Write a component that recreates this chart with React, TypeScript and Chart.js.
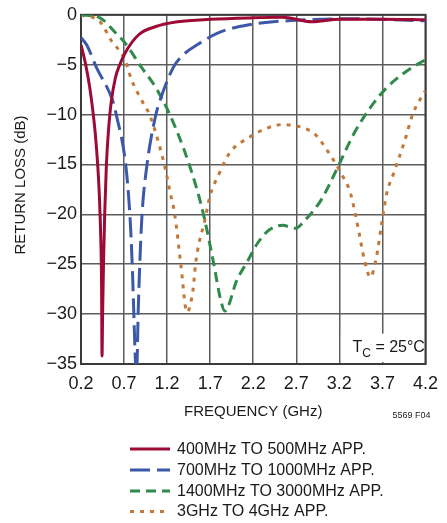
import React, { useEffect, useRef } from "react";
import { Chart, registerables } from "chart.js";

Chart.register(...registerables);

const X_TICKS = [0.2, 0.7, 1.2, 1.7, 2.2, 2.7, 3.2, 3.7, 4.2];
const Y_TICKS = [0, -5, -10, -15, -20, -25, -30, -35];

const SERIES_LABELS = [
  "400MHz TO 500MHz APP.",
  "700MHz TO 1000MHz APP.",
  "1400MHz TO 3000MHz APP.",
  "3GHz TO 4GHz APP.",
];

const RED_FREQ = [0.2, 0.25, 0.3, 0.34, 0.37, 0.395, 0.415, 0.43, 0.439, 0.444, 0.451, 0.461, 0.475, 0.495, 0.52, 0.55, 0.6, 0.65, 0.72, 0.87, 1.06, 1.32, 1.7, 2.2, 2.54, 2.88, 3.2, 3.7, 4.2];
const RED_DB = [-3.0, -4.8, -7.2, -9.8, -12.3, -15.2, -18.5, -22.5, -27.0, -34.2, -30.0, -25.1, -20.0, -15.0, -11.5, -8.8, -6.3, -5.0, -3.7, -2.0, -1.2, -0.7, -0.45, -0.3, -0.25, -0.7, -0.45, -0.45, -0.5];

const BLUE_FREQ = [0.2, 0.265, 0.38, 0.567, 0.612, 0.72, 0.768, 0.795, 0.814, 0.833, 0.842, 0.851, 0.863, 0.882, 0.908, 0.965, 1.067, 1.117, 1.27, 1.4, 1.55, 1.78, 2.15, 2.69, 3.37, 4.2];
const BLUE_DB = [-2.3, -3.0, -5.3, -8.6, -10.1, -15.1, -20.1, -25.1, -30.1, -35.0, -36.0, -35.0, -30.1, -25.1, -20.1, -15.1, -10.1, -8.6, -5.3, -3.9, -3.0, -1.85, -1.0, -0.55, -0.4, -0.6];

const GREEN_FREQ = [0.2, 0.42, 0.6, 0.7, 0.905, 1.07, 1.15, 1.21, 1.4, 1.55, 1.63, 1.74, 1.82, 1.87, 2.01, 2.14, 2.25, 2.38, 2.54, 2.69, 2.8, 2.92, 3.0, 3.18, 3.37, 3.56, 3.75, 3.98, 4.2];
const GREEN_DB = [0, -0.3, -1.8, -2.7, -5.3, -7.3, -8.6, -9.6, -13.6, -17.6, -20.3, -24.9, -28.5, -29.7, -26.6, -24.6, -22.9, -21.6, -21.1, -21.4, -20.6, -19.4, -18.4, -15.3, -11.9, -9.3, -7.3, -5.65, -4.5];

const ORANGE_FREQ = [0.2, 0.42, 0.56, 0.7, 0.79, 0.9, 1.0, 1.1, 1.17, 1.23, 1.29, 1.36, 1.43, 1.5, 1.53, 1.57, 1.63, 1.7, 1.8, 1.93, 2.15, 2.38, 2.54, 2.77, 2.92, 3.06, 3.22, 3.33, 3.4, 3.5, 3.56, 3.63, 3.69, 3.75, 3.83, 3.96, 4.05, 4.17, 4.2];
const ORANGE_DB = [0, -0.7, -2.7, -4.3, -6.6, -8.5, -10.1, -12.8, -15.1, -17.6, -20.1, -25.1, -29.8, -27.6, -25.0, -22.9, -20.9, -18.1, -16.0, -13.8, -12.3, -11.3, -11.0, -11.3, -12.0, -13.6, -15.9, -17.9, -20.6, -24.9, -26.3, -24.3, -21.0, -17.9, -15.9, -12.6, -10.0, -8.0, -7.6];

const COLORS = ["#9c0a35", "#3c58a8", "#2f8a4c", "#c27838"];
const DASHES: number[][] = [[], [20, 7], [10, 6], [4, 6]];

const FONT = "'Liberation Sans', Arial, sans-serif";

function pts(f: number[], d: number[]) {
  return f.map((x, i) => ({ x, y: d[i] }));
}

const decorPlugin = {
  id: "decor",
  beforeDatasetsDraw(chart: any) {
    const { ctx, chartArea: a } = chart;
    const xs = chart.scales.x;
    const ys = chart.scales.y;
    ctx.save();
    const bx0 = xs.getPixelForValue(3.2) + 1.5;
    const by0 = ys.getPixelForValue(-31.95);
    ctx.fillStyle = "#ffffff";
    ctx.fillRect(bx0, by0, a.right - 1.5 - bx0, a.bottom - 2 - by0);
    ctx.strokeStyle = "#3a3a3a";
    ctx.lineWidth = 2;
    ctx.strokeRect(a.left, a.top, a.right - a.left, a.bottom - a.top);
    ctx.fillStyle = "#1a1a1a";
    ctx.textBaseline = "alphabetic";
    ctx.textAlign = "left";
    ctx.font = `16px ${FONT}`;
    let x = 352.5;
    ctx.fillText("T", x, 352);
    x += ctx.measureText("T").width;
    ctx.font = `12px ${FONT}`;
    ctx.fillText("C", x, 356.5);
    x += ctx.measureText("C").width;
    ctx.font = `16px ${FONT}`;
    ctx.fillText(" = 25°C", x, 352);
    ctx.restore();
  },
  afterDraw(chart: any) {
    const { ctx, chartArea: a } = chart;
    ctx.save();
    ctx.fillStyle = "#1a1a1a";
    ctx.font = `15px ${FONT}`;
    ctx.textAlign = "center";
    ctx.textBaseline = "middle";
    ctx.fillText("FREQUENCY (GHz)", (a.left + a.right) / 2, 411.5);
    ctx.save();
    ctx.translate(21, 185);
    ctx.rotate(-Math.PI / 2);
    ctx.fillText("RETURN LOSS (dB)", 0, 0);
    ctx.restore();
    ctx.font = `9px ${FONT}`;
    ctx.textAlign = "left";
    ctx.fillText("5569 F04", 392.5, 416);
    const rows = [449, 470, 491, 511.5];
    chart.data.datasets.forEach((ds: any, i: number) => {
      const y = rows[i];
      ctx.save();
      ctx.strokeStyle = ds.borderColor;
      ctx.lineWidth = 3;
      ctx.setLineDash(DASHES[i]);
      ctx.beginPath();
      ctx.moveTo(130, y);
      ctx.lineTo(170, y);
      ctx.stroke();
      ctx.restore();
      ctx.font = `16px ${FONT}`;
      ctx.textAlign = "left";
      ctx.textBaseline = "middle";
      ctx.fillStyle = "#1a1a1a";
      ctx.fillText(ds.label, 177, y + 0.5);
    });
    ctx.restore();
  },
};

export default function App() {
  const ref = useRef<HTMLCanvasElement>(null);
  useEffect(() => {
    const series = [
      pts(RED_FREQ, RED_DB),
      pts(BLUE_FREQ, BLUE_DB),
      pts(GREEN_FREQ, GREEN_DB),
      pts(ORANGE_FREQ, ORANGE_DB),
    ];
    const chart = new Chart(ref.current as HTMLCanvasElement, {
      type: "line",
      data: {
        datasets: series.map((data, i) => ({
          label: SERIES_LABELS[i],
          data,
          borderColor: COLORS[i],
          backgroundColor: COLORS[i],
          borderWidth: 3,
          borderDash: DASHES[i],
          pointRadius: 0,
          fill: false,
          cubicInterpolationMode: "monotone" as const,
          clip: 0,
        })),
      },
      options: {
        responsive: false,
        animation: false,
        events: [],
        layout: { padding: { top: 13, right: 14, bottom: 0, left: 0 } },
        plugins: { legend: { display: false }, tooltip: { enabled: false } },
        scales: {
          x: {
            type: "linear",
            min: 0.2,
            max: 4.2,
            afterBuildTicks: (s: any) => {
              s.ticks = X_TICKS.map((v) => ({ value: v }));
            },
            afterFit: (s: any) => {
              s.height = 159;
            },
            grid: { color: "#5c5c5c", lineWidth: 1.5, drawTicks: false },
            border: { display: false },
            ticks: {
              padding: 9,
              color: "#1a1a1a",
              font: { family: FONT, size: 18 },
              maxRotation: 0,
              autoSkip: false,
              callback: (v: any) => Number(v).toFixed(1),
            },
          },
          y: {
            type: "linear",
            min: -35,
            max: 0,
            afterBuildTicks: (s: any) => {
              s.ticks = Y_TICKS.map((v) => ({ value: v }));
            },
            afterFit: (s: any) => {
              s.width = 81;
            },
            grid: { color: "#5c5c5c", lineWidth: 1.5, drawTicks: false },
            border: { display: false },
            ticks: {
              padding: 4,
              color: "#1a1a1a",
              font: { family: FONT, size: 18 },
              autoSkip: false,
              callback: (v: any) => (Number(v) === 0 ? "0" : "\u2212" + Math.abs(Number(v))),
            },
          },
        },
      },
      plugins: [decorPlugin],
    });
    return () => chart.destroy();
  }, []);
  return (
    <div style={{ position: "fixed", left: 0, top: 0, width: 447, height: 523, background: "#fff" }}>
      <canvas ref={ref} width={447} height={523} style={{ width: 447, height: 523, display: "block" }} />
    </div>
  );
}
